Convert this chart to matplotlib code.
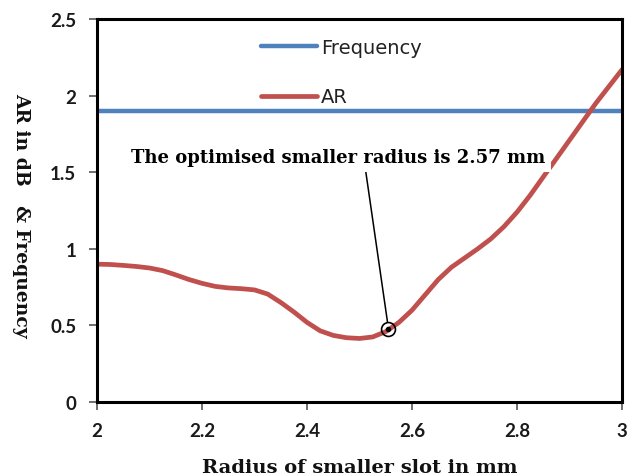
import numpy as np
import matplotlib
matplotlib.use('Agg')
import matplotlib.pyplot as plt

# values
radius = [2.000, 2.025, 2.050, 2.075, 2.100, 2.125, 2.150, 2.175, 2.200, 2.225,
          2.250, 2.275, 2.300, 2.325, 2.350, 2.375, 2.400, 2.425, 2.450, 2.475,
          2.500, 2.525, 2.550, 2.575, 2.600, 2.625, 2.650, 2.675, 2.700, 2.725,
          2.750, 2.775, 2.800, 2.825, 2.850, 2.875, 2.900, 2.925, 2.950, 2.975,
          3.000]
ar_db = [0.900, 0.898, 0.892, 0.885, 0.875, 0.858, 0.830, 0.800, 0.775, 0.755,
         0.745, 0.740, 0.732, 0.705, 0.650, 0.588, 0.520, 0.465, 0.435, 0.420,
         0.415, 0.425, 0.460, 0.520, 0.600, 0.700, 0.800, 0.880, 0.940, 1.000,
         1.065, 1.145, 1.240, 1.350, 1.470, 1.590, 1.710, 1.830, 1.950, 2.060,
         2.170]
freq_x = [2.0, 3.0]
freq_y = [1.9, 1.9]

opt_point = (2.555, 0.48)
note = 'The optimised smaller radius is 2.57 mm'

fig = plt.figure(figsize=(6.4, 4.77), dpi=100)
ax = fig.add_axes([0.1516, 0.155, 0.8204, 0.803])

ax.plot(freq_x, freq_y, color='#4F81BD', lw=3.2, solid_capstyle='round', label='Frequency')
ax.plot(radius, ar_db, color='#C0504D', lw=3.4, solid_capstyle='round', label='AR')

ax.set_xlim(2, 3)
ax.set_ylim(0, 2.5)
ax.set_xticks([2, 2.2, 2.4, 2.6, 2.8, 3])
ax.set_xticklabels(['2', '2.2', '2.4', '2.6', '2.8', '3'])
ax.set_yticks([0, 0.5, 1, 1.5, 2, 2.5])
ax.set_yticklabels(['0', '0.5', '1', '1.5', '2', '2.5'])

for s in ax.spines.values():
    s.set_linewidth(2.2)
    s.set_color('black')
ax.tick_params(direction='out', length=6, width=1.2, color='#555555', labelsize=13.5)
ax.tick_params(axis='x', pad=8)
ax.tick_params(axis='y', pad=9)
for lab in ax.get_xticklabels() + ax.get_yticklabels():
    lab.set_family('Lato')
    lab.set_fontweight('bold')
    lab.set_color('#1a1a1a')

ax.set_xlabel('Radius of smaller slot in mm', family='DejaVu Serif',
              fontweight='bold', fontsize=14, color='#111111')
ax.xaxis.set_label_coords(0.50, -0.145)
ax.set_ylabel('AR in dB   & Frequency', family='DejaVu Serif',
              fontweight='bold', fontsize=13.5, rotation=270,
              color='#111111', va='center')
ax.yaxis.set_label_coords(-0.145, 0.49)

leg = ax.legend(loc='upper left', bbox_to_anchor=(0.3115, 0.95), frameon=False,
                handlelength=2.9, handletextpad=0.2,
                labelspacing=1.55, borderpad=0, borderaxespad=0,
                prop={'family': 'DejaVu Sans', 'size': 14})
for t in leg.get_texts():
    t.set_color('#222222')

# optimum marker and note
ax.plot([opt_point[0]], [opt_point[1]], marker='o', ms=10, mfc='none',
        mec='black', mew=1.2, zorder=5)
ax.plot([opt_point[0]], [opt_point[1]], marker='o', ms=3, color='black', zorder=5)
ax.annotate(note, xy=opt_point, xytext=(2.459, 1.60),
            ha='center', va='center', family='DejaVu Serif',
            fontweight='bold', fontsize=13, color='black',
            bbox=dict(boxstyle='square,pad=0.35', fc='white', ec='none'),
            arrowprops=dict(arrowstyle='-', color='black', lw=1.1,
                            shrinkA=0, shrinkB=5, relpos=(0.565, 0.0)),
            zorder=6)

plt.savefig('out.png', dpi=100)
plt.close()
